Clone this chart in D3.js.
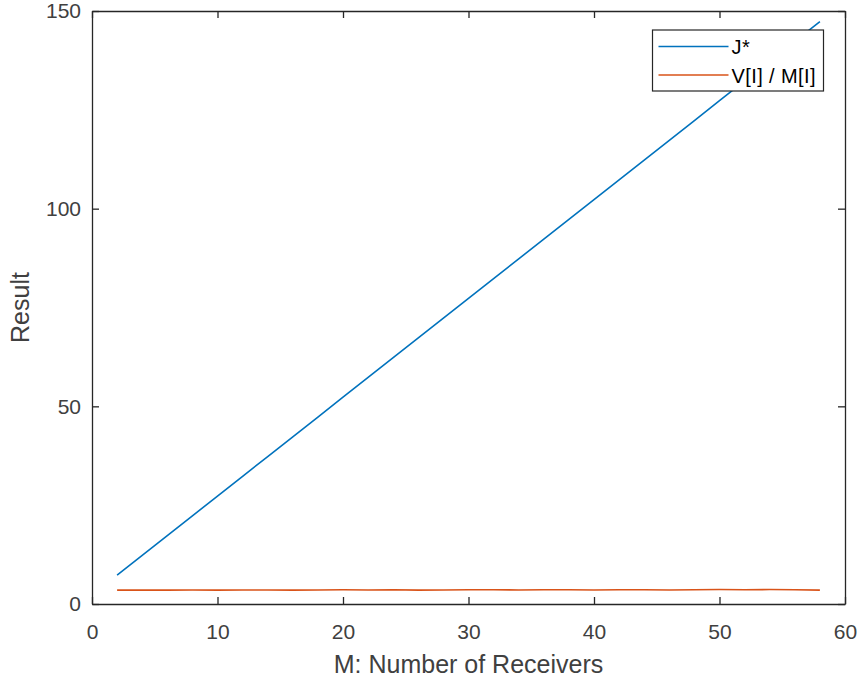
<!DOCTYPE html>
<html>
<head>
<meta charset="utf-8">
<script src="https://cdn.jsdelivr.net/npm/d3@7/dist/d3.min.js"></script>
<style>
  html, body { margin: 0; padding: 0; background: #ffffff; }
  svg { display: block; font-family: "Liberation Sans", Arial, Helvetica, sans-serif; }
</style>
</head>
<body>
<svg id="chart" width="858" height="681"></svg>
<script>
// Number of receivers M
const receivers = [2, 4, 6, 8, 10, 12, 14, 16, 18, 20, 22, 24, 26, 28, 30,
                   32, 34, 36, 38, 40, 42, 44, 46, 48, 50, 52, 54, 56, 58];
// Optimal cost J*
const jStar = [7.3, 12.3, 17.3, 22.3, 27.3, 32.3, 37.3, 42.3, 47.3, 52.3,
               57.3, 62.3, 67.3, 72.3, 77.3, 82.3, 87.3, 92.3, 97.3, 102.3,
               107.3, 112.3, 117.3, 122.3, 127.3, 132.3, 137.3, 142.3, 147.3];
// Ratio V[I] / M[I]
const ratio = [3.5, 3.5, 3.5, 3.55, 3.5, 3.55, 3.55, 3.5, 3.55, 3.6,
               3.55, 3.6, 3.5, 3.55, 3.6, 3.6, 3.55, 3.6, 3.6, 3.55,
               3.6, 3.6, 3.55, 3.6, 3.65, 3.6, 3.65, 3.6, 3.5];
const seriesNames = ["J*", "V[I] / M[I]"];
const xTicks = [0, 10, 20, 30, 40, 50, 60];
const yTicks = [0, 50, 100, 150];

const colors = ["#0072BD", "#D95319"];
const axisColor = "#262626";

const svg = d3.select("#chart");
const margin = { left: 92, right: 13, top: 11, bottom: 77 };
const W = 858, H = 681;

const x = d3.scaleLinear().domain([0, 60]).range([margin.left, W - margin.right]);
const y = d3.scaleLinear().domain([0, 150]).range([H - margin.bottom, margin.top]);

const tickLen = 7;

// Bottom and left axes with inward ticks
const xAxis = d3.axisBottom(x).tickValues(xTicks).tickSize(-tickLen).tickPadding(20).tickSizeOuter(0);
const yAxis = d3.axisLeft(y).tickValues(yTicks).tickSize(-tickLen).tickPadding(11).tickSizeOuter(0);
// Top and right mirror ticks (box on)
const xTop = d3.axisTop(x).tickValues(xTicks).tickSize(-tickLen).tickFormat("").tickSizeOuter(0);
const yRight = d3.axisRight(y).tickValues(yTicks).tickSize(-tickLen).tickFormat("").tickSizeOuter(0);

function styleAxis(g) {
  g.selectAll("path.domain").attr("stroke", axisColor).attr("stroke-width", 1.3);
  g.selectAll(".tick line").attr("stroke", axisColor).attr("stroke-width", 1.3);
  g.selectAll(".tick text").attr("fill", "#404040").attr("font-size", 21)
    .attr("font-family", "Liberation Sans, Arial, sans-serif");
}

// Data lines
const line = d3.line().x((d, i) => x(receivers[i])).y(d => y(d));
[jStar, ratio].forEach((vals, k) => {
  svg.append("path")
    .datum(vals)
    .attr("fill", "none")
    .attr("stroke", colors[k])
    .attr("stroke-width", 1.6)
    .attr("d", line);
});

svg.append("g").attr("transform", `translate(0,${y(0)})`).call(xAxis).call(styleAxis);
svg.append("g").attr("transform", `translate(${x(0)},0)`).call(yAxis).call(styleAxis);
svg.append("g").attr("transform", `translate(0,${y(150)})`).call(xTop).call(styleAxis);
svg.append("g").attr("transform", `translate(${x(60)},0)`).call(yRight).call(styleAxis);

// Axis titles
svg.append("text")
  .attr("x", (x(0) + x(60)) / 2)
  .attr("y", 673)
  .attr("text-anchor", "middle")
  .attr("fill", "#404040")
  .attr("font-size", 25)
  .text("M: Number of Receivers");

svg.append("text")
  .attr("transform", `translate(29,${(y(0) + y(150)) / 2}) rotate(-90)`)
  .attr("text-anchor", "middle")
  .attr("fill", "#404040")
  .attr("font-size", 25)
  .text("Result");

// Legend
const legend = svg.append("g").attr("transform", "translate(652.5,30)");
legend.append("rect")
  .attr("width", 171).attr("height", 61)
  .attr("fill", "#ffffff")
  .attr("stroke", axisColor).attr("stroke-width", 1.2);
seriesNames.forEach((name, i) => {
  const yy = 16.5 + i * 28.5;
  legend.append("line")
    .attr("x1", 6).attr("x2", 76)
    .attr("y1", yy).attr("y2", yy)
    .attr("stroke", colors[i]).attr("stroke-width", 1.6);
  legend.append("text")
    .attr("x", 79).attr("y", yy + 7.5)
    .attr("fill", "#000000")
    .attr("font-size", 20)
    .attr("letter-spacing", 0.4)
    .text(name);
});
</script>
</body>
</html>
